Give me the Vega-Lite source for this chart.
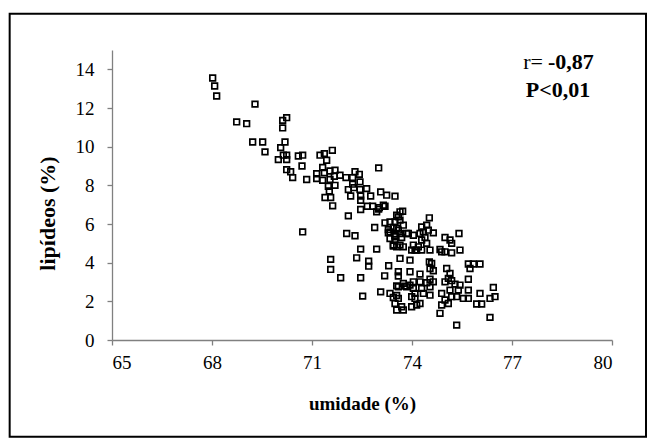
{
  "$schema": "https://vega.github.io/schema/vega-lite/v6.json",
  "width": 500,
  "height": 290,
  "autosize": {"type": "none"},
  "padding": {"left": 112, "top": 50, "right": 43, "bottom": 99},
  "background": "white",
  "config": {
    "view": {"stroke": null},
    "font": "Liberation Serif",
    "axis": {"grid": false, "domainColor": "#808080", "domainWidth": 1.3, "tickColor": "#808080", "tickWidth": 1.3, "tickSize": 5, "labelFont": "Liberation Serif", "labelFontSize": 19, "labelColor": "black", "titleFont": "Liberation Serif", "titleFontSize": 19, "titleFontWeight": "bold", "titleColor": "black"}
  },
  "datasets": {
    "pts": [
      {"umidade": 68.02, "lipideos": 13.55}, {"umidade": 68.08, "lipideos": 13.14}, {"umidade": 68.14, "lipideos": 12.62},
      {"umidade": 69.29, "lipideos": 12.2}, {"umidade": 68.74, "lipideos": 11.28}, {"umidade": 69.04, "lipideos": 11.19},
      {"umidade": 70.24, "lipideos": 11.5}, {"umidade": 70.12, "lipideos": 11.36}, {"umidade": 70.12, "lipideos": 10.97},
      {"umidade": 69.22, "lipideos": 10.24}, {"umidade": 69.52, "lipideos": 10.24}, {"umidade": 69.59, "lipideos": 9.73},
      {"umidade": 70.19, "lipideos": 10.24}, {"umidade": 70.06, "lipideos": 9.95}, {"umidade": 70.14, "lipideos": 9.56},
      {"umidade": 69.99, "lipideos": 9.33}, {"umidade": 70.24, "lipideos": 9.33}, {"umidade": 70.24, "lipideos": 9.56},
      {"umidade": 70.24, "lipideos": 8.81}, {"umidade": 70.36, "lipideos": 8.7}, {"umidade": 70.42, "lipideos": 8.4},
      {"umidade": 70.59, "lipideos": 9.52}, {"umidade": 70.72, "lipideos": 9.56}, {"umidade": 70.7, "lipideos": 9.0},
      {"umidade": 70.84, "lipideos": 8.3}, {"umidade": 71.24, "lipideos": 9.56}, {"umidade": 71.37, "lipideos": 9.64},
      {"umidade": 71.61, "lipideos": 9.81}, {"umidade": 71.44, "lipideos": 9.3}, {"umidade": 71.32, "lipideos": 8.92},
      {"umidade": 71.14, "lipideos": 8.6}, {"umidade": 71.37, "lipideos": 8.65}, {"umidade": 71.54, "lipideos": 8.74},
      {"umidade": 71.69, "lipideos": 8.78}, {"umidade": 71.14, "lipideos": 8.35}, {"umidade": 71.32, "lipideos": 8.26},
      {"umidade": 71.54, "lipideos": 8.3}, {"umidade": 71.67, "lipideos": 8.47}, {"umidade": 71.84, "lipideos": 8.52},
      {"umidade": 71.49, "lipideos": 7.95}, {"umidade": 71.69, "lipideos": 8.0}, {"umidade": 71.52, "lipideos": 7.71},
      {"umidade": 71.39, "lipideos": 7.37}, {"umidade": 71.56, "lipideos": 7.37}, {"umidade": 71.62, "lipideos": 6.94},
      {"umidade": 72.02, "lipideos": 8.4}, {"umidade": 72.22, "lipideos": 8.4}, {"umidade": 72.29, "lipideos": 8.7},
      {"umidade": 72.42, "lipideos": 8.57}, {"umidade": 72.22, "lipideos": 8.06}, {"umidade": 72.44, "lipideos": 8.18},
      {"umidade": 72.09, "lipideos": 7.78}, {"umidade": 72.26, "lipideos": 7.88}, {"umidade": 72.44, "lipideos": 7.78},
      {"umidade": 72.64, "lipideos": 7.83}, {"umidade": 72.16, "lipideos": 7.45}, {"umidade": 72.46, "lipideos": 7.45},
      {"umidade": 72.76, "lipideos": 7.45}, {"umidade": 72.46, "lipideos": 7.23}, {"umidade": 73.0, "lipideos": 8.9},
      {"umidade": 73.06, "lipideos": 7.66}, {"umidade": 73.24, "lipideos": 7.49}, {"umidade": 73.49, "lipideos": 7.44},
      {"umidade": 72.46, "lipideos": 6.75}, {"umidade": 72.66, "lipideos": 6.92}, {"umidade": 72.82, "lipideos": 6.92},
      {"umidade": 73.02, "lipideos": 6.85}, {"umidade": 73.19, "lipideos": 6.92}, {"umidade": 72.94, "lipideos": 6.63},
      {"umidade": 72.09, "lipideos": 6.42}, {"umidade": 70.72, "lipideos": 5.59}, {"umidade": 72.04, "lipideos": 5.51},
      {"umidade": 72.29, "lipideos": 5.39}, {"umidade": 72.88, "lipideos": 5.82}, {"umidade": 73.54, "lipideos": 6.46},
      {"umidade": 72.46, "lipideos": 4.7}, {"umidade": 72.94, "lipideos": 4.7}, {"umidade": 73.34, "lipideos": 5.59},
      {"umidade": 73.49, "lipideos": 5.34}, {"umidade": 73.54, "lipideos": 5.77}, {"umidade": 73.44, "lipideos": 4.91},
      {"umidade": 71.56, "lipideos": 4.17}, {"umidade": 71.56, "lipideos": 3.65}, {"umidade": 71.86, "lipideos": 3.22},
      {"umidade": 72.34, "lipideos": 4.25}, {"umidade": 72.7, "lipideos": 4.08}, {"umidade": 72.7, "lipideos": 3.82},
      {"umidade": 72.46, "lipideos": 3.22}, {"umidade": 72.52, "lipideos": 2.27}, {"umidade": 73.06, "lipideos": 2.49},
      {"umidade": 73.3, "lipideos": 3.84}, {"umidade": 73.18, "lipideos": 3.32}, {"umidade": 73.34, "lipideos": 2.41},
      {"umidade": 73.44, "lipideos": 2.2}, {"umidade": 73.54, "lipideos": 2.8}, {"umidade": 73.54, "lipideos": 2.3},
      {"umidade": 73.54, "lipideos": 1.55}, {"umidade": 73.14, "lipideos": 6.97}, {"umidade": 73.0, "lipideos": 6.77},
      {"umidade": 73.64, "lipideos": 6.63}, {"umidade": 73.72, "lipideos": 6.66}, {"umidade": 73.59, "lipideos": 6.37},
      {"umidade": 73.19, "lipideos": 6.06}, {"umidade": 73.34, "lipideos": 6.11}, {"umidade": 73.49, "lipideos": 6.11},
      {"umidade": 73.64, "lipideos": 6.2}, {"umidade": 73.74, "lipideos": 5.94}, {"umidade": 73.29, "lipideos": 5.71},
      {"umidade": 73.44, "lipideos": 5.82}, {"umidade": 73.59, "lipideos": 5.68}, {"umidade": 73.29, "lipideos": 5.54},
      {"umidade": 73.49, "lipideos": 5.42}, {"umidade": 73.64, "lipideos": 5.51}, {"umidade": 73.84, "lipideos": 5.51},
      {"umidade": 73.34, "lipideos": 5.25}, {"umidade": 73.49, "lipideos": 5.2}, {"umidade": 73.69, "lipideos": 5.3},
      {"umidade": 73.89, "lipideos": 5.51}, {"umidade": 74.04, "lipideos": 5.42}, {"umidade": 73.44, "lipideos": 4.86},
      {"umidade": 73.54, "lipideos": 4.82}, {"umidade": 73.64, "lipideos": 4.91}, {"umidade": 73.74, "lipideos": 4.82},
      {"umidade": 74.04, "lipideos": 4.91}, {"umidade": 73.99, "lipideos": 4.65}, {"umidade": 74.09, "lipideos": 4.65},
      {"umidade": 74.52, "lipideos": 6.32}, {"umidade": 74.29, "lipideos": 5.85}, {"umidade": 74.44, "lipideos": 5.94},
      {"umidade": 74.49, "lipideos": 5.68}, {"umidade": 74.64, "lipideos": 5.54}, {"umidade": 74.24, "lipideos": 5.51},
      {"umidade": 74.34, "lipideos": 5.59}, {"umidade": 74.39, "lipideos": 5.3}, {"umidade": 74.29, "lipideos": 5.17},
      {"umidade": 74.44, "lipideos": 5.0}, {"umidade": 74.14, "lipideos": 4.65}, {"umidade": 74.29, "lipideos": 4.65},
      {"umidade": 74.19, "lipideos": 4.82}, {"umidade": 74.54, "lipideos": 4.65}, {"umidade": 74.84, "lipideos": 4.68},
      {"umidade": 74.89, "lipideos": 4.56}, {"umidade": 74.99, "lipideos": 4.56}, {"umidade": 74.99, "lipideos": 5.3},
      {"umidade": 75.14, "lipideos": 5.17}, {"umidade": 75.19, "lipideos": 5.0}, {"umidade": 75.41, "lipideos": 5.51},
      {"umidade": 75.44, "lipideos": 4.65}, {"umidade": 75.19, "lipideos": 4.51}, {"umidade": 73.64, "lipideos": 4.22},
      {"umidade": 73.94, "lipideos": 4.13}, {"umidade": 74.52, "lipideos": 4.04}, {"umidade": 74.59, "lipideos": 3.96},
      {"umidade": 73.59, "lipideos": 3.53}, {"umidade": 73.59, "lipideos": 3.31}, {"umidade": 73.94, "lipideos": 3.53},
      {"umidade": 74.24, "lipideos": 3.41}, {"umidade": 74.54, "lipideos": 3.7}, {"umidade": 74.64, "lipideos": 3.58},
      {"umidade": 75.04, "lipideos": 3.7}, {"umidade": 75.14, "lipideos": 3.44}, {"umidade": 75.09, "lipideos": 3.19},
      {"umidade": 74.99, "lipideos": 3.01}, {"umidade": 75.19, "lipideos": 3.07}, {"umidade": 75.29, "lipideos": 2.89},
      {"umidade": 75.69, "lipideos": 3.93}, {"umidade": 75.84, "lipideos": 3.93}, {"umidade": 75.74, "lipideos": 3.7},
      {"umidade": 76.04, "lipideos": 3.93}, {"umidade": 75.69, "lipideos": 3.14}, {"umidade": 75.44, "lipideos": 2.84},
      {"umidade": 75.39, "lipideos": 2.58}, {"umidade": 75.69, "lipideos": 2.58}, {"umidade": 76.04, "lipideos": 2.41},
      {"umidade": 76.34, "lipideos": 2.15}, {"umidade": 76.44, "lipideos": 2.72}, {"umidade": 76.49, "lipideos": 2.24},
      {"umidade": 75.94, "lipideos": 1.86}, {"umidade": 76.09, "lipideos": 1.86}, {"umidade": 76.34, "lipideos": 1.17},
      {"umidade": 75.69, "lipideos": 2.15}, {"umidade": 75.54, "lipideos": 2.15}, {"umidade": 73.59, "lipideos": 2.15},
      {"umidade": 73.49, "lipideos": 1.89}, {"umidade": 73.69, "lipideos": 1.72}, {"umidade": 73.74, "lipideos": 1.55},
      {"umidade": 73.59, "lipideos": 2.75}, {"umidade": 73.79, "lipideos": 2.79}, {"umidade": 73.94, "lipideos": 2.84},
      {"umidade": 74.04, "lipideos": 2.67}, {"umidade": 74.09, "lipideos": 2.41}, {"umidade": 73.99, "lipideos": 2.24},
      {"umidade": 74.09, "lipideos": 2.15}, {"umidade": 74.14, "lipideos": 1.81}, {"umidade": 74.24, "lipideos": 1.89},
      {"umidade": 73.99, "lipideos": 1.72}, {"umidade": 74.29, "lipideos": 2.67}, {"umidade": 74.34, "lipideos": 2.41},
      {"umidade": 74.54, "lipideos": 2.32}, {"umidade": 74.54, "lipideos": 2.75}, {"umidade": 74.64, "lipideos": 3.01},
      {"umidade": 74.54, "lipideos": 3.14}, {"umidade": 74.44, "lipideos": 2.96}, {"umidade": 74.24, "lipideos": 3.01},
      {"umidade": 74.04, "lipideos": 3.01}, {"umidade": 73.74, "lipideos": 2.93}, {"umidade": 73.84, "lipideos": 2.75},
      {"umidade": 74.89, "lipideos": 2.41}, {"umidade": 74.99, "lipideos": 2.07}, {"umidade": 75.09, "lipideos": 1.89},
      {"umidade": 74.89, "lipideos": 1.81}, {"umidade": 75.19, "lipideos": 2.24}, {"umidade": 75.14, "lipideos": 2.58},
      {"umidade": 75.34, "lipideos": 2.24}, {"umidade": 74.84, "lipideos": 1.38}, {"umidade": 75.34, "lipideos": 0.77}
    ],
    "frame": [{"x0": 61.93, "x1": 81.02, "y0": -5.0, "y1": 16.88}],
    "r_label": [{"x": 77.93, "y": 14.4, "t": "r="}],
    "r_value": [{"x": 78.08, "y": 14.4, "t": "-0,87"}],
    "p_label": [{"x": 78.38, "y": 12.95, "t": "P<0,01"}]
  },
  "layer": [
    {
      "data": {"name": "frame"},
      "mark": {"type": "rect", "fill": null, "stroke": "black", "strokeWidth": 2, "clip": false},
      "encoding": {
        "x": {"field": "x0", "type": "quantitative", "scale": {"domain": [65, 80], "nice": false, "zero": false}},
        "x2": {"field": "x1"},
        "y": {"field": "y0", "type": "quantitative", "scale": {"domain": [0, 15], "nice": false, "zero": false}},
        "y2": {"field": "y1"}
      }
    },
    {
      "data": {"name": "pts"},
      "mark": {"type": "point", "shape": "square", "filled": false, "stroke": "black", "strokeWidth": 1.7, "size": 32, "opacity": 1},
      "encoding": {
        "x": {"field": "umidade", "type": "quantitative", "title": "umidade (%)",
              "axis": {"values": [65, 68, 71, 74, 77, 80], "labelPadding": 8, "titlePadding": 22}},
        "y": {"field": "lipideos", "type": "quantitative", "title": "lipídeos (%)",
              "axis": {"values": [0, 2, 4, 6, 8, 10, 12, 14], "labelPadding": 13, "titlePadding": 16, "titleFontSize": 22, "titleY": 163}}
      }
    },
    {
      "data": {"name": "r_label"},
      "mark": {"type": "text", "fontSize": 22, "baseline": "middle", "align": "right", "font": "Liberation Serif"},
      "encoding": {
        "x": {"field": "x", "type": "quantitative"},
        "y": {"field": "y", "type": "quantitative"},
        "text": {"field": "t"}
      }
    },
    {
      "data": {"name": "r_value"},
      "mark": {"type": "text", "fontSize": 22, "fontWeight": "bold", "baseline": "middle", "align": "left", "font": "Liberation Serif"},
      "encoding": {
        "x": {"field": "x", "type": "quantitative"},
        "y": {"field": "y", "type": "quantitative"},
        "text": {"field": "t"}
      }
    },
    {
      "data": {"name": "p_label"},
      "mark": {"type": "text", "fontSize": 22, "fontWeight": "bold", "baseline": "middle", "align": "center", "font": "Liberation Serif"},
      "encoding": {
        "x": {"field": "x", "type": "quantitative"},
        "y": {"field": "y", "type": "quantitative"},
        "text": {"field": "t"}
      }
    }
  ]
}
